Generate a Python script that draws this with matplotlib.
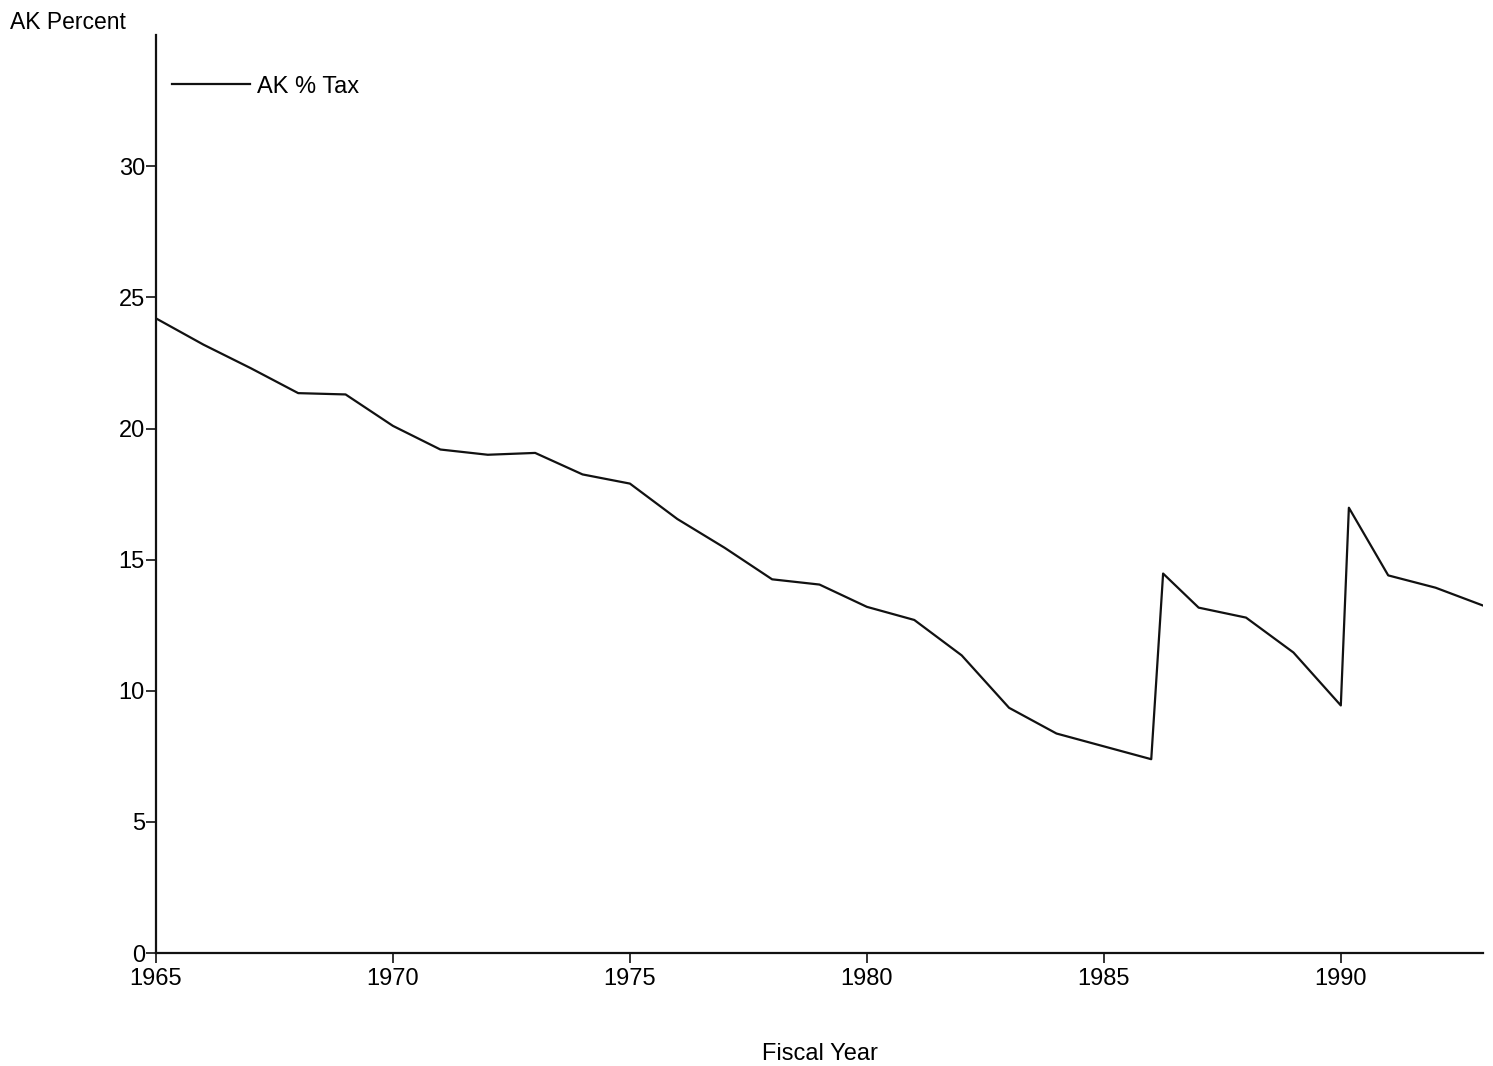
import matplotlib
matplotlib.use("Agg")
import matplotlib.pyplot as plt

plt.rcParams['font.family'] = ['Liberation Sans', 'DejaVu Sans']

# AK % tax by fiscal year (jumps in 1986 and 1990 drawn as near-vertical steps)
years = [1965, 1966, 1967, 1968, 1969, 1970, 1971, 1972, 1973, 1974,
         1975, 1976, 1977, 1978, 1979, 1980, 1981, 1982, 1983, 1984,
         1985, 1986, 1986.25, 1987, 1988, 1989, 1990, 1990.17, 1991, 1992,
         1993]
ak_tax = [24.2, 23.2, 22.3, 21.35, 21.3, 20.1, 19.2, 19.0, 19.07, 18.25,
          17.9, 16.55, 15.45, 14.25, 14.05, 13.2, 12.7, 11.35, 9.35, 8.37,
          7.88, 7.39, 14.47, 13.17, 12.79, 11.46, 9.44, 16.98, 14.4, 13.93,
          13.25]

x_ticks = [1965, 1970, 1975, 1980, 1985, 1990]
y_ticks = [0, 5, 10, 15, 20, 25, 30]

fig = plt.figure(figsize=(14.93, 10.66), dpi=100)
ax = fig.add_axes([0.1045, 0.106, 0.8888, 0.861])

ax.plot(years, ak_tax, color='#111111', lw=1.6, label='AK % Tax')

ax.set_xlim(1965, 1993)
ax.set_ylim(0, 35)
ax.set_xticks(x_ticks)
ax.set_yticks(y_ticks)
ax.tick_params(axis='both', labelsize=17, length=7, width=1.2, color='#111111')
ax.tick_params(axis='x', pad=4)
ax.tick_params(axis='y', pad=1)

for s in ['top', 'right']:
    ax.spines[s].set_visible(False)
for s in ['left', 'bottom']:
    ax.spines[s].set_linewidth(1.6)
    ax.spines[s].set_color('#111111')

ax.set_xlabel('Fiscal Year', fontsize=17, labelpad=38)
fig.text(0.007, 0.979, 'AK Percent', fontsize=16.5, ha='left', va='center')

ax.legend(loc='upper left', bbox_to_anchor=(0.012, 0.956), frameon=False,
          fontsize=17, handlelength=3.3, handletextpad=0.3, borderpad=0,
          borderaxespad=0)

fig.savefig('out.png', dpi=100, facecolor='white')
